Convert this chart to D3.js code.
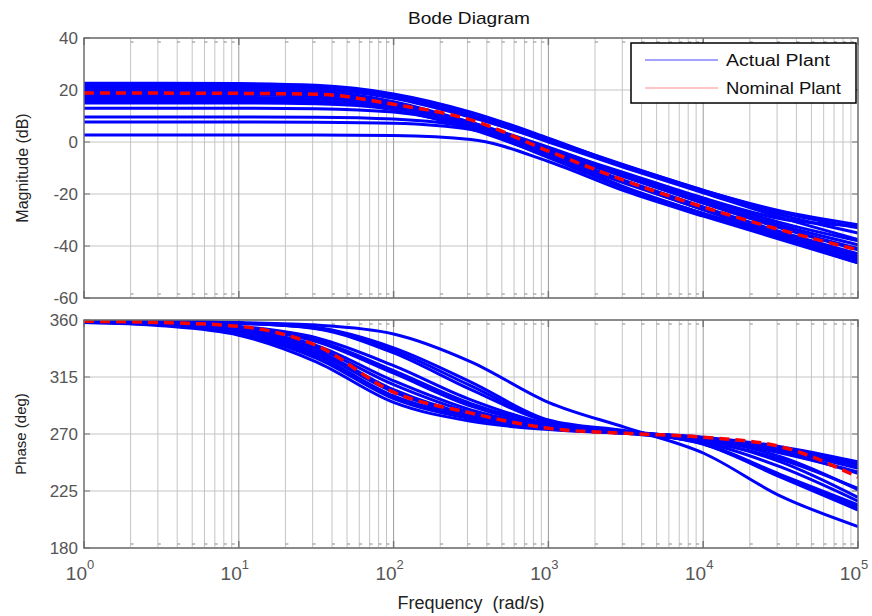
<!DOCTYPE html>
<html>
<head>
<meta charset="utf-8">
<script src="https://cdn.jsdelivr.net/npm/d3@7"></script>
<style>
body { margin: 0; background: #fff; }
</style>
</head>
<body>
<div id="chart"></div>
<script>
// sample frequencies (rad/s), half-decade steps
var freqs = [1, 3.16, 10, 31.6, 100, 316, 1000, 3160, 10000, 31600, 100000];

// magnitude (dB) of the perturbed plants
var magActual = [
    [22.6, 22.6, 22.5, 21.8, 18.5, 11.5, 1.5, -9.5, -19, -28, -35],
    [22, 22, 21.9, 21.2, 17.5, 10, 0, -10, -19.5, -29, -37.5],
    [21.6, 21.6, 21.5, 21, 17.6, 10.5, 1, -9, -18.5, -27, -33],
    [21.3, 21.3, 21.2, 20.5, 16.8, 9.5, 0.5, -9.2, -18.6, -26.5, -31.8],
    [20.5, 20.5, 20.4, 19.6, 15.5, 7.5, -2.5, -12, -21.5, -29.5, -32.2],
    [19.8, 19.8, 19.6, 18.8, 14.8, 7.5, -2, -12.5, -22, -31, -38],
    [19, 19, 18.9, 18.3, 14.2, 6.5, -3.5, -13.5, -23, -32, -39.5],
    [18.2, 18.2, 18.1, 17.5, 14, 7, -3, -13.5, -23.5, -33, -41],
    [17.3, 17.3, 17.2, 16.6, 13, 5.5, -4.5, -15, -25, -34.5, -43],
    [16.5, 16.5, 16.4, 16, 13.3, 6.5, -3.5, -13.5, -23.5, -33, -41.5],
    [16, 16, 15.9, 15.5, 12.5, 5, -5.5, -16, -26, -35.5, -44],
    [15, 15, 15, 14.7, 12.5, 6, -4.5, -15.5, -26, -36, -44.5],
    [13, 13, 13, 12.8, 11.5, 5.5, -6, -18, -27.5, -36.5, -46],
    [9.6, 9.6, 9.6, 9.5, 8.8, 5.5, -5, -17.5, -27.5, -37, -46.5],
    [7.7, 7.7, 7.7, 7.6, 7.2, 4.8, -4, -15.5, -26, -36, -45],
    [2.7, 2.7, 2.7, 2.7, 2.5, 1, -7.5, -19, -28.5, -37.5, -46.5]
];
var magNominal = [18.8, 18.8, 18.7, 18.4, 14.5, 8.5, -3.5, -15, -25, -33.8, -41.5];

// phase (deg) of the perturbed plants
var phaseActual = [
    [359.5, 359, 358, 356, 349, 327, 295, 275, 255, 221, 197],
    [359.5, 359, 357.5, 354, 338, 311, 281, 272.5, 262, 236, 210],
    [359.5, 359, 357.5, 353.5, 336, 308, 280, 272, 262, 237, 212],
    [359.5, 359, 357.5, 353, 334, 305, 279.5, 272, 262.5, 238, 214],
    [359, 358, 355, 346, 324, 297, 278, 272, 266, 255, 240],
    [359, 358, 354, 343, 318, 292, 277, 271.5, 266.5, 257, 243],
    [358.5, 357, 352, 338, 309, 287, 275.5, 271, 267, 259, 246],
    [358.5, 356.5, 350.5, 334, 303, 284, 274.5, 271, 267.5, 260, 248],
    [358, 356, 349, 330, 298, 282, 274, 270.5, 267, 258, 244],
    [358, 355.5, 348, 327, 295, 280, 273.5, 270.5, 266, 252, 226],
    [358.5, 357, 351, 336, 305, 285, 275, 271, 265, 248, 220],
    [359, 357.5, 353, 340, 312, 289, 276, 271, 263.5, 244, 217],
    [358.5, 356.5, 350, 332, 300, 283, 274.5, 270.5, 264, 250, 227],
    [359, 358, 354.5, 344, 320, 294, 277.5, 271.5, 266, 256, 239]
];
var phaseNominal = [359, 358, 355, 340, 303, 286.5, 274.5, 270.5, 267.5, 260, 236];

var magTicks = [-60, -40, -20, 0, 20, 40];
var phaseTicks = [180, 225, 270, 315, 360];
var decades = [0, 1, 2, 3, 4, 5];

var W = 872, H = 616;
var left = 84, right = 858;

var svg = d3.select("#chart").append("svg")
    .attr("width", W)
    .attr("height", H)
    .style("font-family", "Arial, 'Liberation Sans', sans-serif");

var xScale = d3.scaleLog().domain([1, 1e5]).range([left, right]);

// minor positions 2..9 in each decade
var minors = [];
decades.slice(0, 5).forEach(function (d) {
    for (var k = 2; k <= 9; k++) minors.push(k * Math.pow(10, d));
});
var majors = decades.map(function (d) { return Math.pow(10, d); });

function drawPanel(id, yScale, yTicks, actual, nominal) {
    var y0 = yScale.range()[0], y1 = yScale.range()[1];
    var g = svg.append("g");

    g.append("clipPath").attr("id", id)
        .append("rect")
        .attr("x", left).attr("y", y1)
        .attr("width", right - left).attr("height", y0 - y1);

    // grid
    g.selectAll(".hgrid").data(yTicks).enter().append("line")
        .attr("x1", left).attr("x2", right)
        .attr("y1", function (d) { return yScale(d); })
        .attr("y2", function (d) { return yScale(d); })
        .attr("stroke", "#c4c4c4").attr("stroke-width", 1);
    g.selectAll(".vminor").data(minors).enter().append("line")
        .attr("x1", function (d) { return xScale(d); })
        .attr("x2", function (d) { return xScale(d); })
        .attr("y1", y1).attr("y2", y0)
        .attr("stroke", "#c4c4c4").attr("stroke-width", 1);
    g.selectAll(".vmajor").data(majors.slice(1, 5)).enter().append("line")
        .attr("x1", function (d) { return xScale(d); })
        .attr("x2", function (d) { return xScale(d); })
        .attr("y1", y1).attr("y2", y0)
        .attr("stroke", "#9a9a9a").attr("stroke-width", 1);

    // tick marks, inside, top and bottom
    [y1, y0].forEach(function (yy, i) {
        var dir = i === 0 ? 1 : -1;
        g.selectAll(null).data(minors).enter().append("line")
            .attr("x1", function (d) { return xScale(d); })
            .attr("x2", function (d) { return xScale(d) + 3; })
            .attr("y1", yy + dir * 4).attr("y2", yy + dir * 4)
            .attr("stroke", "#888").attr("stroke-width", 1);
        g.selectAll(null).data(majors).enter().append("line")
            .attr("x1", function (d) { return xScale(d); })
            .attr("x2", function (d) { return xScale(d); })
            .attr("y1", yy).attr("y2", yy + dir * 7)
            .attr("stroke", "#777").attr("stroke-width", 1.5);
    });
    // y ticks, left and right
    g.selectAll(null).data(yTicks).enter().append("line")
        .attr("x1", left).attr("x2", left + 6)
        .attr("y1", function (d) { return yScale(d); })
        .attr("y2", function (d) { return yScale(d); })
        .attr("stroke", "#777");
    g.selectAll(null).data(yTicks).enter().append("line")
        .attr("x1", right - 6).attr("x2", right)
        .attr("y1", function (d) { return yScale(d); })
        .attr("y2", function (d) { return yScale(d); })
        .attr("stroke", "#777");

    // curves
    var line = d3.line()
        .x(function (d, i) { return xScale(freqs[i]); })
        .y(function (d) { return yScale(d); })
        .curve(d3.curveMonotoneX);

    var curves = g.append("g").attr("clip-path", "url(#" + id + ")");
    curves.selectAll(".actual").data(actual).enter().append("path")
        .attr("d", line)
        .attr("fill", "none")
        .attr("stroke", "#0000ff")
        .attr("stroke-width", 3);
    curves.append("path")
        .datum(nominal)
        .attr("d", line)
        .attr("fill", "none")
        .attr("stroke", "#ff0000")
        .attr("stroke-width", 3.5)
        .attr("stroke-dasharray", "10,6");

    // frame
    g.append("rect")
        .attr("x", left).attr("y", y1)
        .attr("width", right - left).attr("height", y0 - y1)
        .attr("fill", "none")
        .attr("stroke", "#6e6e6e").attr("stroke-width", 1.5);

    // y tick labels
    g.selectAll(null).data(yTicks).enter().append("text")
        .attr("x", left - 6)
        .attr("y", function (d) { return yScale(d) + 6; })
        .attr("text-anchor", "end")
        .style("font-size", "17px")
        .style("fill", "#555")
        .text(function (d) { return d; });
}

var magY = d3.scaleLinear().domain([-60, 40]).range([298, 38]);
var phaseY = d3.scaleLinear().domain([180, 360]).range([548, 320]);

drawPanel("clipMag", magY, magTicks, magActual, magNominal);
drawPanel("clipPhase", phaseY, phaseTicks, phaseActual, phaseNominal);

// x tick labels 10^n
var narrow = "'Liberation Sans Narrow', 'Arial Narrow', Arial, sans-serif";
var xl = svg.selectAll(".xlab").data(decades).enter().append("text")
    .attr("x", function (d) { return xScale(Math.pow(10, d)) - 4; })
    .attr("y", 580)
    .attr("text-anchor", "middle")
    .style("font-family", narrow)
    .style("font-size", "19px")
    .style("fill", "#555");
xl.append("tspan").text("10");
xl.append("tspan")
    .attr("dy", -11)
    .style("font-size", "13px")
    .text(function (d) { return d; });

// axis labels and title
svg.append("text")
    .attr("x", 471).attr("y", 609)
    .attr("text-anchor", "middle")
    .style("font-family", narrow)
    .style("font-size", "18px")
    .style("fill", "#222")
    .attr("xml:space", "preserve")
    .text("Frequency  (rad/s)");

svg.append("text")
    .attr("transform", "translate(28,168) rotate(-90)")
    .attr("text-anchor", "middle")
    .style("font-size", "16px")
    .style("fill", "#222")
    .text("Magnitude (dB)");

svg.append("text")
    .attr("transform", "translate(26,434) rotate(-90)")
    .attr("text-anchor", "middle")
    .style("font-size", "15px")
    .style("fill", "#222")
    .text("Phase (deg)");

svg.append("text")
    .attr("x", 469).attr("y", 24)
    .attr("text-anchor", "middle")
    .attr("textLength", 122)
    .attr("lengthAdjust", "spacingAndGlyphs")
    .style("font-size", "17px")
    .style("fill", "#111")
    .text("Bode Diagram");

// legend
var legendItems = ["Actual Plant", "Nominal Plant"];
var legendColors = ["#4848ff", "#ff8c8c"];
var legendWidths = [104, 115];
var lg = svg.append("g");
lg.append("rect")
    .attr("x", 631).attr("y", 43)
    .attr("width", 225).attr("height", 60)
    .attr("fill", "#fff")
    .attr("stroke", "#000").attr("stroke-width", 1.5);
lg.selectAll(".lline").data(legendItems).enter().append("line")
    .attr("x1", 645).attr("x2", 718)
    .attr("y1", function (d, i) { return 60 + i * 28; })
    .attr("y2", function (d, i) { return 60 + i * 28; })
    .attr("stroke", function (d, i) { return legendColors[i]; })
    .attr("stroke-width", 1.2);
lg.selectAll(".ltext").data(legendItems).enter().append("text")
    .attr("x", 726)
    .attr("y", function (d, i) { return 66 + i * 28; })
    .attr("textLength", function (d, i) { return legendWidths[i]; })
    .attr("lengthAdjust", "spacingAndGlyphs")
    .style("font-size", "16px")
    .style("fill", "#111")
    .text(function (d) { return d; });
</script>
</body>
</html>
